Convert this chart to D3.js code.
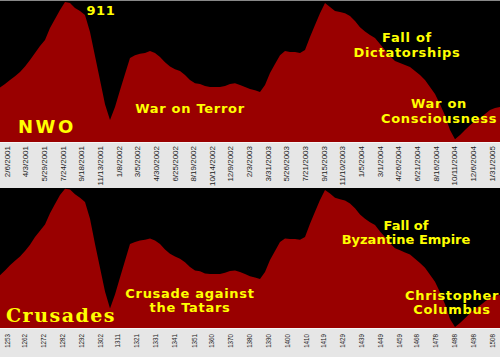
<!DOCTYPE html>
<html><head><meta charset="utf-8">
<script src="https://cdn.jsdelivr.net/npm/d3@7"></script>
<style>html,body{margin:0;padding:0;background:#fff}svg{display:block}</style>
</head><body>
<svg id="c" width="500" height="357"></svg>
<script>
// ---- data ----
const nwoTickLabels = ["2/6/2001","4/3/2001","5/29/2001","7/24/2001","9/18/2001","11/13/2001","1/8/2002","3/5/2002","4/30/2002","6/25/2002","8/19/2002","10/14/2002","12/9/2002","2/3/2003","3/31/2003","5/26/2003","7/21/2003","9/15/2003","11/10/2003","1/5/2004","3/1/2004","4/26/2004","6/21/2004","8/16/2004","10/11/2004","12/6/2004","1/31/2005"];
const crusadeTickLabels = ["1253","1262","1272","1282","1292","1302","1311","1321","1331","1341","1351","1360","1370","1380","1390","1400","1410","1419","1429","1439","1449","1459","1468","1478","1488","1498","1508"];
// sampled every 15 days starting 1/16/2001
const nwoValues = [39,41.4,44.3,47,50,54,58.6,63.6,68.6,72.9,
  81.4,87.9,94.3,100,99.3,95.7,93.6,90.7,78.6,61.4,
  44.3,27,15.7,25,37,48.6,60,62,63,63.6,
  65,63.6,60.7,57,54,52,50.7,47.9,44.3,42,
  41.4,40,39.3,39.3,39.3,40,41.4,42,40.7,39.3,
  37.9,37,35.7,40.7,49.3,55.7,62,65,64.3,64.3,
  63.6,65.7,75,83.6,92,99.3,96.4,93.6,92.9,92,
  90,86.4,82,79,76.4,74.3,70,65.7,61.4,57.9,
  56.4,55,53.6,50.7,47.9,44.3,39.3,34.3,27,19,
  8.6,2,5,8.6,12,15,17,20,22.9,24.3,
  25];
// sampled evenly over 1250-1512
const crusadeValues = [37.6,41,44.8,48,51,55,59.5,65,69.5,74,
  82,88.5,95,99.5,99,95.5,93,90,78,60,
  43,26,14,24,36,48,60,61.5,62.5,63,
  64,62.5,60,56,53,51,49.5,47,43.5,41,
  40.5,39,38.5,38.5,38.5,39.5,40.7,41,40,38.5,
  37,36,35,40,48.5,55,61.5,64,63.5,63.5,
  63,65,74.5,83,91.5,98.5,96,93,92,91,
  89,85.5,81,78,75.5,73.5,69,65,60.5,57,
  55.5,54,52.5,49.5,46.5,43,38,33,25.5,17,
  6.5,0.8,3.5,7,10.5,13.5,16,19,21.5,23,
  23.6];
const nwoNotes = [["911"],["War on Terror"],["Fall of","Dictatorships"],["War on","Consciousness"]];
const crusadeNotes = [["Crusade against","the Tatars"],["Fall of","Byzantine Empire"],["Christopher","Columbus"]];

// ---- drawing ----
const W = 500;
const svg = d3.select("#c");
const RED = "#990000", BAND = "#e6e6e6", YEL = "#ffff00";

const startDate = new Date(2001,0,16), endDate = new Date(2005,1,24);
const xTop = d3.scaleTime().domain([startDate, endDate]).range([0, W]);
const yTop = d3.scaleLinear().domain([0,100]).range([142, 2]);
const xBot = d3.scaleLinear().domain([1249.82, 1512.55]).range([0, W]);
const yBot = d3.scaleLinear().domain([0,100]).range([328, 188]);

const topData = nwoValues.map((v,i)=>({x: d3.timeDay.offset(startDate, 15*i), v}));
const span = xBot.domain()[1]-xBot.domain()[0];
const botData = crusadeValues.map((v,i)=>({x: xBot.domain()[0] + i*span/(crusadeValues.length-1), v}));

// backgrounds
svg.append("rect").attr("x",0).attr("y",0).attr("width",W).attr("height",142).attr("fill","#000");
svg.append("rect").attr("x",0).attr("y",142).attr("width",W).attr("height",46).attr("fill",BAND);
svg.append("rect").attr("x",0).attr("y",188).attr("width",W).attr("height",140).attr("fill","#000");
svg.append("rect").attr("x",0).attr("y",328).attr("width",W).attr("height",29).attr("fill",BAND);
svg.append("rect").attr("x",0).attr("y",0).attr("width",W).attr("height",1).attr("fill","#888");

// areas
svg.append("path").datum(topData).attr("fill",RED)
  .attr("d", d3.area().x(d=>xTop(d.x)).y0(yTop(0)).y1(d=>yTop(d.v)));
svg.append("path").datum(botData).attr("fill",RED)
  .attr("d", d3.area().x(d=>xBot(d.x)).y0(yBot(0)).y1(d=>yBot(d.v)));

svg.append("rect").attr("x",0).attr("y",142).attr("width",W).attr("height",1).attr("fill","#f6f6f6");
svg.append("rect").attr("x",0).attr("y",328).attr("width",W).attr("height",1).attr("fill","#f6f6f6");

// tick labels
const parse = d3.timeParse("%m/%d/%Y");
svg.append("g").selectAll("text").data(nwoTickLabels).join("text")
  .attr("transform", d=>`translate(${xTop(parse(d))},146) rotate(-90)`)
  .attr("text-anchor","end").attr("dy","0.35em")
  .attr("font-family","'Liberation Sans', Arial, sans-serif").attr("font-size",8).attr("fill","#222")
  .text(d=>d);
svg.append("g").selectAll("text").data(crusadeTickLabels).join("text")
  .attr("transform", d=>`translate(${xBot(+d+0.6)},334) rotate(-90) scale(0.78,1)`)
  .attr("text-anchor","end").attr("dy","0.35em")
  .attr("font-family","'Liberation Sans', Arial, sans-serif").attr("font-size",8).attr("fill","#222")
  .text(d=>d);

// annotations
function note(lines, cx, y0, lh, opts={}) {
  const t = svg.append("text").attr("text-anchor", opts.anchor||"middle")
    .attr("font-family", opts.family||"'DejaVu Sans', Verdana, sans-serif")
    .attr("font-weight","bold").attr("font-size", opts.size||13)
    .attr("letter-spacing", opts.ls!=null?opts.ls:0.7).attr("fill",YEL);
  lines.forEach((s,i)=>t.append("tspan").attr("x",cx).attr("y",y0+i*lh).text(s));
}
note(nwoNotes[0], 101, 15, 14);
note(nwoNotes[1], 190, 112.5, 14);
note(nwoNotes[2], 407, 42, 15);
note(nwoNotes[3], 439, 108, 14.5);
note(["NWO"], 18, 133, 0, {anchor:"start", size:18, ls:2.5});

note(crusadeNotes[0], 190, 298, 14);
note(crusadeNotes[1], 406, 230, 14, {ls:0});
note(crusadeNotes[2], 452, 300, 14);
note(["Crusades"], 6, 322, 0, {anchor:"start", size:19, ls:1.5, family:"'DejaVu Serif', serif"});
</script>
</body></html>
